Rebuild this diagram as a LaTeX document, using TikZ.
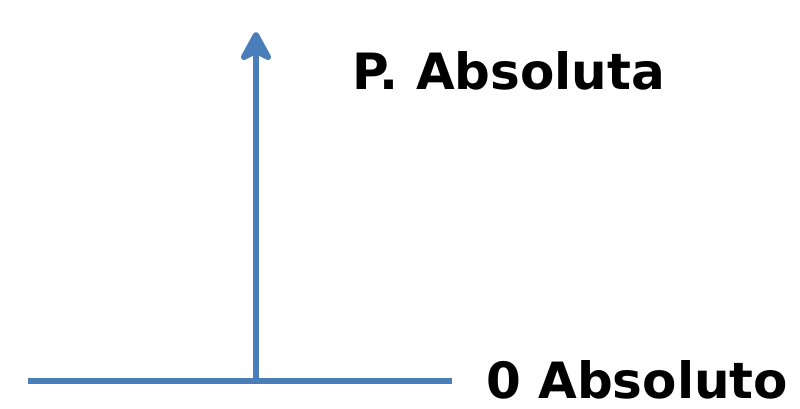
\documentclass[tikz,border=0pt]{standalone}
\usepackage{fontspec}
\setmainfont{DejaVu Sans}
\definecolor{lineblue}{HTML}{4A7EBB}
\tikzset{
  axis/.style={draw=lineblue, line width=6pt},
  headshape/.style={draw=lineblue, fill=lineblue, line width=6pt, line join=round},
  lbl/.style={font=\fontsize{50}{60}\selectfont\bfseries, text=black, inner sep=0pt},
}
\begin{document}
\begin{tikzpicture}[x=1pt,y=-1pt]
\useasboundingbox (0,0) rectangle (800,409);
\coordinate (L) at (28,381);
\coordinate (R) at (452,381);
\coordinate (B) at (256,381);
\coordinate (T) at (256,52);
\draw[axis] (L) -- (R);
\draw[axis] (B) -- (T);
\fill[headshape] (256,35) -- (268,57) -- (256,51) -- (244,57) -- cycle;
\node[lbl, anchor=base west] (pa) at (352,90) {P. Absoluta};
\node[lbl, anchor=base west] (oa) at (486,398) {0 Absoluto};
\end{tikzpicture}
\end{document}
